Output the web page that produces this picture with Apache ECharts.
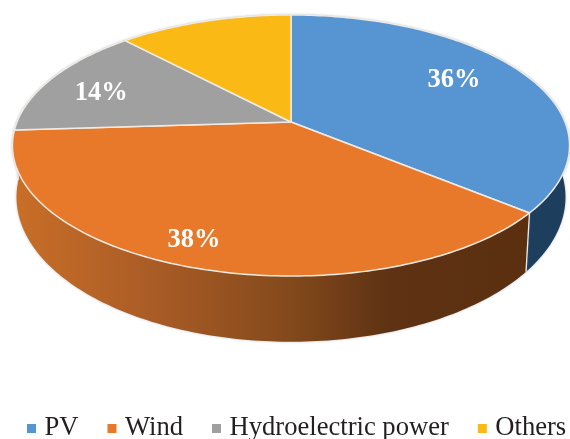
<!DOCTYPE html>
<html>
<head>
<meta charset="utf-8">
<style>html,body{margin:0;padding:0;background:#fff}#chart{width:570px;height:439px}</style>
<script src="https://cdn.jsdelivr.net/npm/echarts@6/dist/echarts.min.js"></script>
</head>
<body>
<div id="chart"></div>
<script>
// Share of generation by source, in percent
const categories = ['PV', 'Wind', 'Hydroelectric power', 'Others'];
const shares = [36, 38, 14, 12];
const showLabel = [true, true, true, false];
const topColors = ['#5795d2', '#e8792b', '#a0a0a1', '#fab914'];

// Side wall shading, left to right across the disc
const wallStops = [
  [[0, '#1e3e5e'], [1, '#1e3e5e']],
  [[0, '#c86e27'], [0.25, '#aa5c26'], [0.5, '#83491b'], [0.68, '#5e3213'], [1, '#5a2f10']],
  [[0, '#6a6a6a'], [1, '#6a6a6a']],
  [[0, '#a87a08'], [1, '#a87a08']]
];

// Label placement relative to each slice: angle shift (degrees) and radial fraction
const labelShift = [-5.1, 3.1, -2.1, 0];
const labelRadius = [0.735, 0.844, 0.769, 0.7];
const labelNudgeY = 2;

// Perspective disc: rim points are projected from a unit circle
const perspective = -0.18;
const topRim = { cx: 291, cy: 122, rx: 274, ry: 126.3 };
const bottomRim = { cx: 291, cy: 171, rx: 270, ry: 140 };
const rimColor = '#efebe4';
const total = shares.reduce((a, b) => a + b, 0);

function project(rim, deg, frac) {
  const t = deg * Math.PI / 180;
  const u = Math.sin(t) * frac, v = -Math.cos(t) * frac;
  const w = 1 + perspective * v;
  return [rim.cx + rim.rx * u / w, rim.cy + rim.ry * v / w];
}
function arc(rim, a0, a1) {
  const pts = [], n = Math.max(2, Math.ceil(Math.abs(a1 - a0)));
  for (let i = 0; i <= n; i++) pts.push(project(rim, a0 + (a1 - a0) * i / n, 1));
  return pts;
}

function sliceRenderer(index) {
  return function (params, api) {
    const before = shares.slice(0, index).reduce((a, b) => a + b, 0);
    const value = api.value(0);
    const a0 = before / total * 360, a1 = (before + value) / total * 360;
    const top = [[topRim.cx, topRim.cy]].concat(arc(topRim, a0, a1));
    const wall = arc(topRim, a0, a1).concat(arc(bottomRim, a1, a0));
    const children = [
      // soft edge behind the disc
      { type: 'polygon', z2: 0, shape: { points: top },
        style: { fill: '#dcdcdc', shadowBlur: 2, shadowColor: 'rgba(110,110,110,0.45)' } },
      { type: 'polygon', z2: 1, shape: { points: wall },
        style: {
          fill: new echarts.graphic.LinearGradient(15, 0, 566, 0, wallStops[index].map(s => ({ offset: s[0], color: s[1] })), true),
          shadowBlur: 3, shadowColor: 'rgba(110,125,140,0.45)'
        } },
      // seam between neighbouring walls
      { type: 'polyline', z2: 2, shape: { points: [project(topRim, a1, 1), project(bottomRim, a1, 1)] },
        style: { fill: null, stroke: rimColor, lineWidth: 1.3 } },
      { type: 'polygon', z2: 5, shape: { points: top },
        style: { fill: topColors[index], stroke: rimColor, lineWidth: 1.5, lineJoin: 'round' } }
    ];
    if (showLabel[index]) {
      const p = project(topRim, (a0 + a1) / 2 + labelShift[index], labelRadius[index]);
      children.push({ type: 'text', z2: 10,
        style: { x: p[0], y: p[1] + labelNudgeY, text: value + '%', fill: '#ffffff', align: 'center', verticalAlign: 'middle',
          font: 'bold 26.5px "Liberation Serif", serif' } });
    }
    return { type: 'group', children };
  };
}

const chart = echarts.init(document.getElementById('chart'), null, { renderer: 'canvas' });
chart.setOption({
  animation: false,
  backgroundColor: '#ffffff',
  legend: {
    data: categories,
    left: 22,
    top: 415,
    padding: [0, 0, 0, 5],
    itemWidth: 9,
    itemHeight: 9,
    itemGap: 29,
    icon: 'rect',
    textStyle: { fontFamily: '"Liberation Serif", serif', fontSize: 26.6, color: '#231f20', padding: [0, 0, 0, 3.5] }
  },
  series: categories.map((name, i) => ({
    type: 'custom',
    name,
    coordinateSystem: 'none',
    silent: true,
    itemStyle: { color: topColors[i] },
    data: [[shares[i]]],
    renderItem: sliceRenderer(i)
  }))
});
</script>
</body>
</html>
